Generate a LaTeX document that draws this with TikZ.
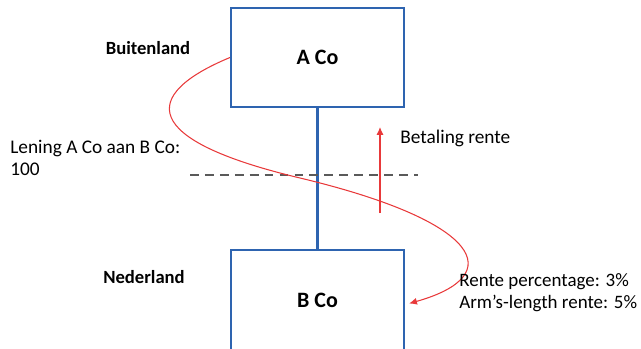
\documentclass[tikz,border=0pt]{standalone}
\usepackage{fontspec}
\setmainfont{Carlito}
\usepackage{tikz}
\usetikzlibrary{positioning,arrows.meta}
\usepackage{xcolor}
\definecolor{cobalt}{HTML}{2E64B0}
\definecolor{loanred}{HTML}{E8393A}
\definecolor{dashgray}{HTML}{5A5A5A}

\begin{document}
\begin{tikzpicture}[x=0.02cm, y=-0.02cm,
		company/.style={draw=cobalt, line width=1.2pt, minimum width=173*0.02cm, font=\fontsize{12.5}{14}\selectfont\bfseries},
		plain/.style={font=\fontsize{11}{12.6}\selectfont, align=left, inner sep=0pt},
		country/.style={font=\fontsize{10.6}{12}\selectfont\bfseries, inner sep=0pt}]
		\clip (0,0) rectangle (641,348);

		% Companies
		\node[company, minimum height=99*0.02cm] (aco) at (317.5,57.5) {A Co};
		\node[company, minimum height=101*0.02cm] (bco) at (317.5,300.5) {B Co};
		\draw[cobalt, line width=1.2pt] (aco.south) -- (bco.north);

		% Countries
		\node[country] (buiten) at (148,48) {Buitenland};
		\node[country] (neder) at (144,277) {Nederland};

		% Border line
		\coordinate (borderL) at (190,175);
		\coordinate (borderR) at (418,175);
		\draw[dashgray, line width=1.1pt, dash pattern=on 5pt off 3.5pt] (borderL) -- (borderR);

		% Loan and interest
		\node[plain, anchor=west] (loan) at (10,158) {Lening A Co aan B Co:\\100};
		\coordinate (payfrom) at (380,213);
		\coordinate (payto) at (380,127);
		\draw[loanred, line width=0.6pt, -{Latex[length=4.5pt, width=4pt]}] (payfrom) -- (payto);
		\node[plain, anchor=west] (pay) at (400,138) {Betaling rente};

		\coordinate (mid) at (300,178);
		\draw[loanred, line width=0.6pt, -{Latex[length=4.5pt, width=4pt]}]
			(aco.west) .. controls (140,95) and (140,140) .. (mid)
			.. controls (480,221) and (510,275) .. ([xshift=4*0.02cm, yshift=-3*0.02cm]bco.east);
		\node[plain, font=\fontsize{10.8}{12.6}\selectfont, anchor=west] (rate) at (459,292.5) {Rente percentage: 3\%\\Arm’s-length rente: 5\%};
	\end{tikzpicture}
\end{document}
